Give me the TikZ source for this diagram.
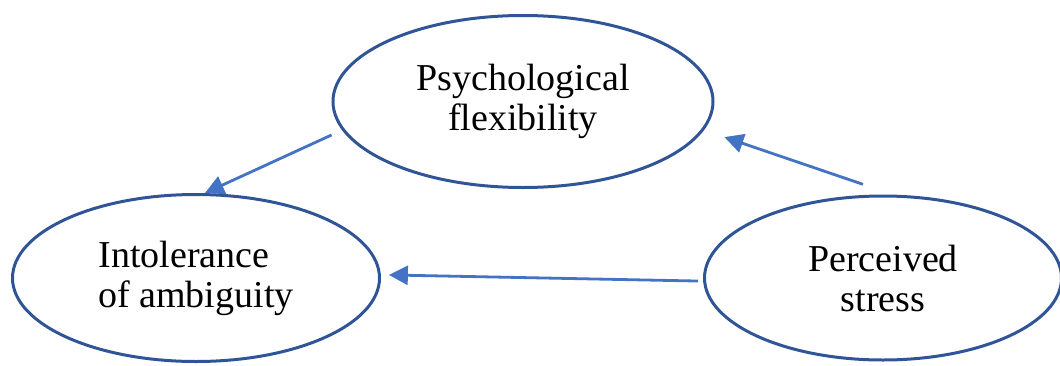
\documentclass[tikz,border=0pt]{standalone}
\usepackage{fontspec}
\setmainfont{Liberation Serif}
\usetikzlibrary{shapes.geometric,positioning,arrows.meta}
\definecolor{ovalblue}{HTML}{2F5597}
\definecolor{arrowblue}{HTML}{4472C4}

\begin{document}
\begin{tikzpicture}[
ovalnode/.style={ellipse, draw=ovalblue, line width=1.5pt, inner sep=1pt, font=\fontsize{19pt}{20pt}\selectfont, align=center},
linkarrow/.style={-{Triangle[length=9.5pt,width=9.5pt]}, color=arrowblue, line width=1.4pt},
]
\useasboundingbox (-98pt,-43.5pt) rectangle (432pt,139pt);

%Nodes
\node[ovalnode, align=left, minimum width=183.5pt, minimum height=83.5pt] (intolerance) {Intolerance\\of ambiguity};
\node[ovalnode, minimum width=178.5pt, minimum height=82pt] (stress) [right=161pt of intolerance] {Perceived\\stress};
\node[ovalnode, minimum width=190pt, minimum height=86pt] (flexibility) [above=2pt of intolerance, xshift=163.5pt] {Psychological\\flexibility};

%Lines
\draw[linkarrow, shorten <=5.8pt] (flexibility.189.5) -- (intolerance.84);
\draw[linkarrow, shorten <=16pt, shorten >=10.8pt] (stress.83) -- (flexibility.351);
\draw[linkarrow, shorten <=2.5pt, shorten >=4pt] (stress.181) -- (intolerance.1);

\end{tikzpicture}
\end{document}
